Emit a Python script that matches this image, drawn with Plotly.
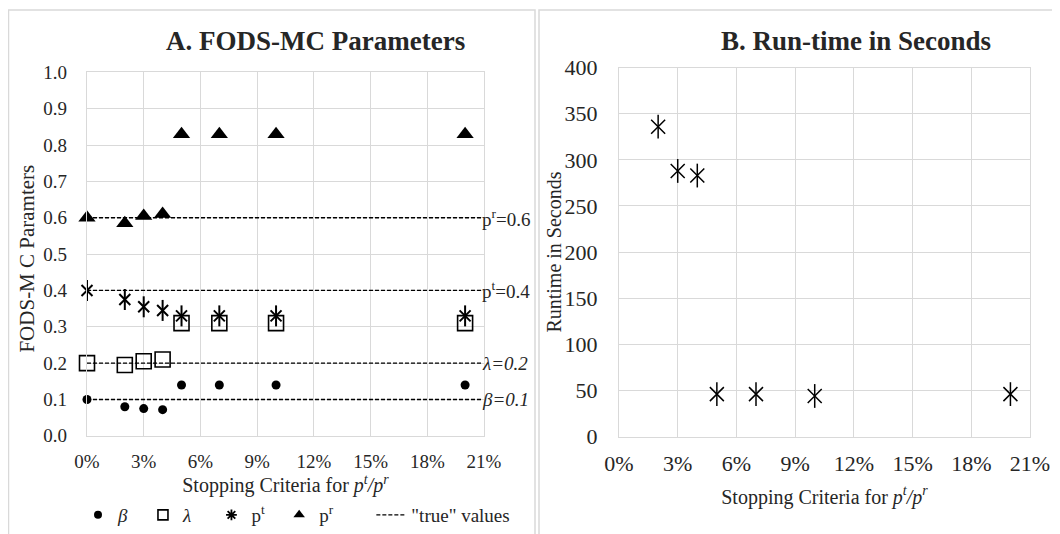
import plotly.graph_objects as go

# ---------------- data ----------------
criteria_a = [0, 2, 3, 4, 5, 7, 10, 20]          # stopping criteria (%)
beta_vals = [0.10, 0.080, 0.075, 0.072, 0.14, 0.14, 0.14, 0.14]
lambda_vals = [0.20, 0.195, 0.205, 0.21, 0.31, 0.31, 0.31, 0.31]
pt_vals = [0.40, 0.375, 0.355, 0.345, 0.33, 0.33, 0.33, 0.33]
pr_vals = [0.60, 0.585, 0.605, 0.61, 0.83, 0.83, 0.83, 0.83]

true_names = ["p<sup>r</sup>=0.6", "p<sup>t</sup>=0.4", "<i>λ=0.2</i>", "<i>β=0.1</i>"]
true_vals = [0.6, 0.4, 0.2, 0.1]
true_x = [0, 20.85]

criteria_b = [2, 3, 4, 5, 7, 10, 20]
runtime_vals = [336, 288, 283, 46, 46, 44, 46]

x_ticks = [0, 3, 6, 9, 12, 15, 18, 21]
x_tick_text = ["0%", "3%", "6%", "9%", "12%", "15%", "18%", "21%"]

# ---------------- figure ----------------
# the page body has an 8px margin, so the figure is placed at (8, 8)
OFF = 8
W, H = 1060 - OFF, 534 - OFF
FONT = "Liberation Serif"
BLACK = "#000000"
TXT = "#262626"
GRID = "#d9d9d9"
NB = "\u00a0"

def px(x):
    return (x - OFF) / W

def py(y):
    return 1 - (y - OFF) / H

fig = go.Figure()

# panel A data marks
fig.add_trace(go.Scatter(x=criteria_a, y=beta_vals, mode="markers", showlegend=False,
                         marker=dict(symbol="circle", size=9, color=BLACK),
                         xaxis="x", yaxis="y", cliponaxis=False))
fig.add_trace(go.Scatter(x=criteria_a, y=lambda_vals, mode="markers", showlegend=False,
                         marker=dict(symbol="square-open", size=15, color=BLACK,
                                     line=dict(width=1.6, color=BLACK)),
                         xaxis="x", yaxis="y", cliponaxis=False))
fig.add_trace(go.Scatter(x=criteria_a, y=pt_vals, mode="markers", showlegend=False,
                         marker=dict(symbol="x-thin-open", size=11, color=BLACK,
                                     line=dict(width=2, color=BLACK)),
                         xaxis="x", yaxis="y", cliponaxis=False))
fig.add_trace(go.Scatter(x=criteria_a, y=pt_vals, mode="markers", showlegend=False,
                         marker=dict(symbol="line-ns-open", size=15, color=BLACK,
                                     line=dict(width=2, color=BLACK)),
                         xaxis="x", yaxis="y", cliponaxis=False))
fig.add_trace(go.Scatter(x=criteria_a, y=pr_vals, mode="markers", showlegend=False,
                         marker=dict(symbol="triangle-up", size=15, color=BLACK),
                         xaxis="x", yaxis="y", cliponaxis=False))

for i, (nm, v) in enumerate(zip(true_names, true_vals)):
    fig.add_trace(go.Scatter(x=true_x, y=[v, v], mode="lines", showlegend=False,
                             line=dict(color=BLACK, width=1.3, dash="4px,2px"),
                             xaxis="x", yaxis="y", cliponaxis=False))
    fig.add_annotation(x=true_x[-1], y=v, xref="x", yref="y", text=nm,
                       showarrow=False, xanchor="left", yanchor="middle",
                       xshift=-1, font=dict(family=FONT, size=19, color=TXT))

# legend entries (small symbols, like the reference legend)
legend_items = [
    ("<i>β</i>" + NB * 2, dict(symbol="circle", size=8, color=BLACK)),
    ("<i>λ</i>" + NB * 3, dict(symbol="square-open", size=10, color=BLACK,
                                line=dict(width=1.6, color=BLACK))),
    ("p<sup>t</sup>" + NB * 2, dict(symbol="asterisk-open", size=9, color=BLACK,
                                     line=dict(width=1.8, color=BLACK))),
    ("p<sup>r</sup>" + NB * 7, dict(symbol="triangle-up", size=10, color=BLACK)),
]
for nm, mk in legend_items:
    fig.add_trace(go.Scatter(x=[None], y=[None], mode="markers", name=nm, marker=mk,
                             xaxis="x", yaxis="y"))
fig.add_trace(go.Scatter(x=[None], y=[None], mode="lines", name='"true" values',
                         line=dict(color=BLACK, width=1.3, dash="4px,2px"),
                         xaxis="x", yaxis="y"))

# panel B
fig.add_trace(go.Scatter(x=criteria_b, y=runtime_vals, mode="markers", showlegend=False,
                         marker=dict(symbol="x-thin-open", size=14, color=BLACK,
                                     line=dict(width=1.5, color=BLACK)),
                         xaxis="x2", yaxis="y2", cliponaxis=False))
fig.add_trace(go.Scatter(x=criteria_b, y=runtime_vals, mode="markers", showlegend=False,
                         marker=dict(symbol="line-ns-open", size=17, color=BLACK,
                                     line=dict(width=1.5, color=BLACK)),
                         xaxis="x2", yaxis="y2", cliponaxis=False))

tick_a = dict(family=FONT, size=19, color=TXT)
tick_b = dict(family=FONT, size=22, color=TXT)
titlefont = dict(family=FONT, size=20, color=TXT)

xcommon = dict(range=[0, 21], tickmode="array", tickvals=x_ticks, ticktext=x_tick_text,
               showgrid=True, gridcolor=GRID, gridwidth=1.3, zeroline=False,
               showline=True, linecolor=GRID, linewidth=1.3, mirror=True,
               ticks="outside", tickcolor="rgba(0,0,0,0)", automargin=False)
ycommon = dict(showgrid=True, gridcolor=GRID, gridwidth=1.3, zeroline=False,
               showline=True, linecolor=GRID, linewidth=1.3, mirror=True,
               ticks="outside", tickcolor="rgba(0,0,0,0)", automargin=False)

xtitle = "Stopping Criteria for <i>p<sup>t</sup>/p<sup>r</sup></i>"

fig.update_layout(
    template="none",
    width=W, height=H,
    margin=dict(l=0, r=0, t=0, b=0, pad=0),
    paper_bgcolor="white", plot_bgcolor="white",
    font=dict(family=FONT, color=TXT),
    xaxis=dict(domain=[px(87), px(484)], anchor="y", ticklen=8, tickfont=tick_a,
               title=dict(text=xtitle, font=titlefont, standoff=2), **xcommon),
    yaxis=dict(domain=[py(438.3), py(72.7)], anchor="x", range=[0, 1], dtick=0.1,
               tickformat=".1f", ticklen=15, tickfont=tick_a, **ycommon),
    xaxis2=dict(domain=[px(619), px(1030)], anchor="y2", ticklen=7, tickfont=tick_b,
                title=dict(text=xtitle, font=titlefont, standoff=14), **xcommon),
    yaxis2=dict(domain=[py(439), py(68)], anchor="x2", range=[0, 400], dtick=50,
                ticklen=16, tickfont=tick_b, **ycommon),
    legend=dict(orientation="h", x=px(78), xanchor="left", y=py(518),
                yanchor="middle", font=dict(family=FONT, size=19, color=TXT),
                bgcolor="rgba(0,0,0,0)", itemwidth=30),
    showlegend=True,
)

# y-axis titles
fig.add_annotation(x=px(27), y=py(260), xref="paper", yref="paper",
                   xanchor="center", yanchor="middle", textangle=-90,
                   text="FODS-M C Paramters", showarrow=False,
                   font=dict(family=FONT, size=21, color=TXT))
fig.add_annotation(x=px(554), y=py(254), xref="paper", yref="paper",
                   xanchor="center", yanchor="middle", textangle=-90,
                   text="Runtime in Seconds", showarrow=False,
                   font=dict(family=FONT, size=20, color=TXT))

# titles
fig.add_annotation(x=px(315), y=py(41), xref="paper", yref="paper",
                   xanchor="center", yanchor="middle",
                   text="<b>A. FODS-MC Parameters</b>", showarrow=False,
                   font=dict(family=FONT, size=27, color=TXT))
fig.add_annotation(x=px(856), y=py(41), xref="paper", yref="paper",
                   xanchor="center", yanchor="middle",
                   text="<b>B. Run-time in Seconds</b>", showarrow=False,
                   font=dict(family=FONT, size=27, color=TXT))

# panel borders
fig.add_shape(type="rect", xref="paper", yref="paper", x0=px(8.5), x1=px(535),
              y0=-0.05, y1=py(10), line=dict(color=GRID, width=1.5), layer="below")
fig.add_shape(type="rect", xref="paper", yref="paper", x0=px(539), x1=1.05,
              y0=-0.05, y1=py(10), line=dict(color=GRID, width=1.5), layer="below")

fig.write_html("out.html")
